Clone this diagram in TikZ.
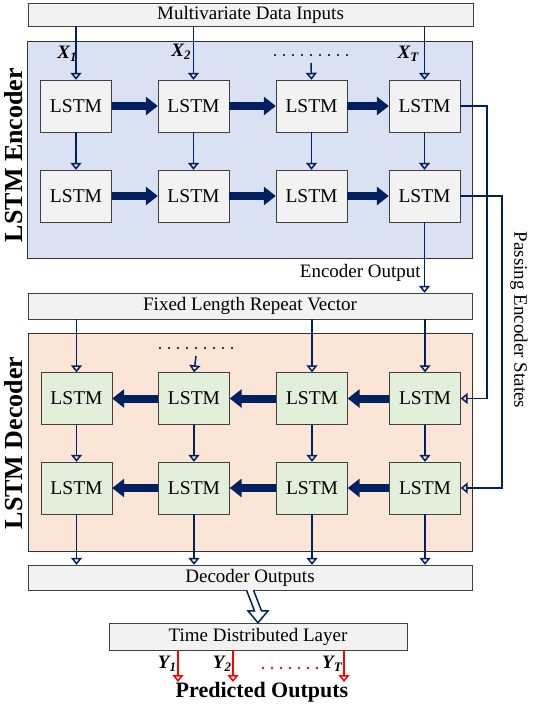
\documentclass[tikz,border=0pt]{standalone}
\usepackage{fontspec}
\setmainfont{Liberation Serif}
\usetikzlibrary{arrows.meta,positioning,calc}

\definecolor{navy}{RGB}{0,32,96}
\definecolor{encbg}{RGB}{218,225,243}
\definecolor{decbg}{RGB}{251,229,214}
\definecolor{cellgray}{RGB}{242,242,242}
\definecolor{cellgreen}{RGB}{226,239,218}

\newcommand{\seqlab}[2]{{\bfseries\itshape #1\raisebox{-0.35ex}{\fontsize{13}{13}\selectfont #2}}}

\tikzset{
  bar/.style={draw=black!75, fill=cellgray, minimum width=445pt, minimum height=24pt, inner sep=0pt},
  cell/.style={draw=black!75, fill=cellgray, minimum width=71pt, minimum height=52pt, inner sep=0pt, font=\rmfamily\fontsize{19.5}{21}\selectfont},
  deccell/.style={cell, fill=cellgreen},
  feed/.style={navy, line width=1.5pt, -{Triangle[open, length=7pt, width=11pt]}},
  pass/.style={navy, line width=8pt, -{Triangle[length=12pt, width=18pt]}},
  outarr/.style={red, line width=1.5pt, -{Triangle[open, length=7pt, width=11pt]}},
  side/.style={rotate=90, font=\fontsize{26}{28}\selectfont\bfseries},
}

\begin{document}
\begin{tikzpicture}[x=1pt, y=-1pt, font=\fontsize{19}{21}\selectfont]
\useasboundingbox (0,0) rectangle (552,708);

% containers
\node[draw=black!80, fill=encbg, minimum width=445pt, minimum height=217pt] (encbox) at (249.5,149.5) {};
\node[draw=black!80, fill=decbg, minimum width=444pt, minimum height=218pt] (decbox) at (250,442) {};
\node[side] at (14,155) {LSTM Encoder};
\node[side] at (14,443) {LSTM Decoder};

% bars
\node[bar, minimum height=23pt] (inp) at (250.5,14.5) {Multivariate Data Inputs};
\node[bar, minimum width=444pt, minimum height=26pt] (rep) at (250,306) {Fixed Length Repeat Vector};
\node[bar, minimum width=444pt, minimum height=25pt] (decout) at (250,577.5) {Decoder Outputs};
\node[bar, minimum width=298pt, minimum height=27pt] (tdl) at (258,636.5) {Time Distributed Layer};

% encoder cells
\node[cell] (e11) at (76,106) {LSTM};
\node[cell] (e12) at (193.5,106) {LSTM};
\node[cell] (e13) at (311.5,106) {LSTM};
\node[cell] (e14) at (424.5,106) {LSTM};
\node[cell] (e21) at (76,196) {LSTM};
\node[cell] (e22) at (193.5,196) {LSTM};
\node[cell] (e23) at (311.5,196) {LSTM};
\node[cell] (e24) at (424.5,196) {LSTM};

% decoder cells
\node[deccell] (d11) at (76.5,398.5) {LSTM};
\node[deccell] (d12) at (194,398.5) {LSTM};
\node[deccell] (d13) at (312,398.5) {LSTM};
\node[deccell] (d14) at (425,398.5) {LSTM};
\node[deccell] (d21) at (76.5,488) {LSTM};
\node[deccell] (d22) at (194,488) {LSTM};
\node[deccell] (d23) at (312,488) {LSTM};
\node[deccell] (d24) at (425,488) {LSTM};

% inputs
\foreach \c in {e11,e12,e14}
  \draw[feed] (inp.south -| \c) -- (\c.north);
\node (x1) at (67,54) {\seqlab{X}{1}};
\node (x2) at (181,52) {\seqlab{X}{2}};
\node (xt) at (408,54) {\seqlab{X}{T}};
\coordinate (edots) at (311,55);
\foreach \i in {-4,...,4}
  \fill ($(edots)+(\i*9,0)$) circle (1.2pt);
\draw[feed] ($(edots)+(0,8)$) -- (e13.north);

% encoder recurrence
\foreach \r in {1,2} {
  \draw[pass] (e\r1) -- (e\r2);
  \draw[pass] (e\r2) -- (e\r3);
  \draw[pass] (e\r3) -- (e\r4);
}
\foreach \c in {1,2,3,4}
  \draw[feed] (e1\c) -- (e2\c);

% encoder output
\draw[feed] (e24.south) -- (e24.south |- rep.north) node[pos=0.72, left, inner sep=3pt, text=black] {Encoder Output};

% passing states
\draw[feed] (e14.east) -- ++(27,0) |- (d14.east);
\draw[feed] (e24.east) -- ++(42,0) |- (d24.east);
\node[rotate=-90] at (519,320) {Passing Encoder States};

% repeat vector to decoder
\foreach \c in {d11,d13,d14}
  \draw[feed] (rep.south -| \c) -- (\c.north);
\coordinate (ddots) at (196,348);
\foreach \i in {-4,...,4}
  \fill ($(ddots)+(\i*9,0)$) circle (1.2pt);
\draw[feed] ($(ddots)+(0,8)$) -- (d12.north);

% decoder recurrence
\foreach \r in {1,2} {
  \draw[pass] (d\r4) -- (d\r3);
  \draw[pass] (d\r3) -- (d\r2);
  \draw[pass] (d\r2) -- (d\r1);
}
\foreach \c in {1,2,3,4} {
  \draw[feed] (d1\c) -- (d2\c);
  \draw[feed] (d2\c.south) -- (d2\c.south |- decout.north);
}

% to time distributed layer
\draw[navy, line width=1.5pt, fill=white]
  ($(decout.south)+(-3.5,0)$) -- ($(tdl.north)+(-3.5,-12)$) -- ($(tdl.north)+(-10,-12)$)
  -- (tdl.north) -- ($(tdl.north)+(10,-12)$) -- ($(tdl.north)+(3.5,-12)$)
  -- ($(decout.south)+(3.5,0)$);

% outputs
\coordinate (o1) at (178,682);
\coordinate (o2) at (233,682);
\coordinate (ot) at (344,682);
\foreach \c in {o1,o2,ot}
  \draw[outarr] (tdl.south -| \c) -- (\c);
\node (y1) at (167,664) {\seqlab{Y}{1}};
\node (y2) at (222,664) {\seqlab{Y}{2}};
\node (yt) at (332,664) {\seqlab{Y}{T}};
\coordinate (ydots) at (290,668);
\foreach \i in {-3,...,3}
  \fill[red] ($(ydots)+(\i*9,0)$) circle (1.3pt);
\node[font=\fontsize{22}{24}\selectfont\bfseries] (pred) at (262,692) {Predicted Outputs};

\end{tikzpicture}
\end{document}
